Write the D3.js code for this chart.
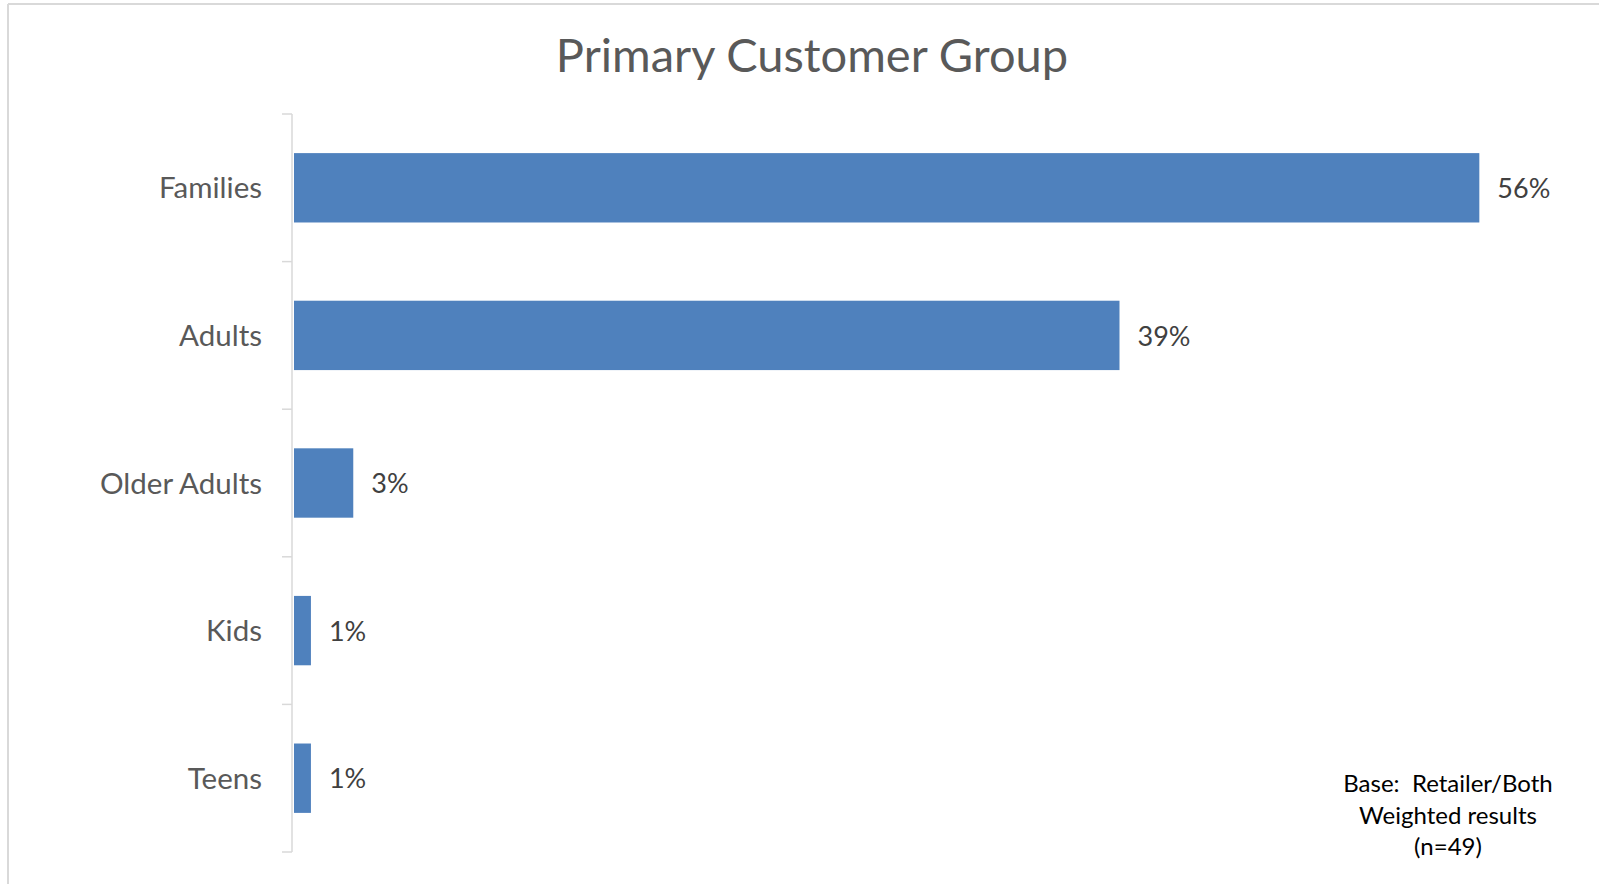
<!DOCTYPE html>
<html>
<head>
<meta charset="utf-8">
<script src="https://cdnjs.cloudflare.com/ajax/libs/d3/7.8.5/d3.min.js"></script>
<style>
  html, body { margin: 0; padding: 0; background: #ffffff; }
  svg { display: block; }
  text { font-family: Lato, "Open Sans", sans-serif; }
</style>
</head>
<body>
<svg id="chart" width="1599" height="884"></svg>
<script>
const title = "Primary Customer Group";
const categories = ["Families", "Adults", "Older Adults", "Kids", "Teens"];
const values = [56, 39, 2.8, 0.8, 0.8];
const noteLines = ["Base:  Retailer/Both", "Weighted results", "(n=49)"];
const xMax = 60;

const svg = d3.select("#chart");
const W = 1599, H = 884;

// chart area frame (top and left edges visible)
svg.append("line").attr("x1", 8).attr("x2", W).attr("y1", 4).attr("y2", 4)
  .attr("stroke", "#d9d9d9").attr("stroke-width", 2);
svg.append("line").attr("x1", 8).attr("x2", 8).attr("y1", 4).attr("y2", H)
  .attr("stroke", "#d9d9d9").attr("stroke-width", 2);

const plot = { left: 294, right: 1564, top: 114, bottom: 852 };

const x = d3.scaleLinear().domain([0, xMax]).range([plot.left, plot.right]);
const y = d3.scaleBand().domain(categories).range([plot.top, plot.bottom])
  .paddingInner(0.53).paddingOuter(0.265);

// title
svg.append("text")
  .attr("x", 812).attr("y", 72)
  .attr("text-anchor", "middle")
  .attr("fill", "#595959")
  .attr("font-size", 47)
  .text(title);

// bars
svg.selectAll("rect.bar").data(categories).enter().append("rect")
  .attr("class", "bar")
  .attr("x", x(0))
  .attr("y", d => y(d))
  .attr("width", (d, i) => x(values[i]) - x(0))
  .attr("height", y.bandwidth())
  .attr("fill", "#4f81bd");

// value labels
const fmt = v => d3.format(".0f")(v) + "%";
svg.selectAll("text.val").data(categories).enter().append("text")
  .attr("class", "val")
  .attr("x", (d, i) => x(values[i]) + 18)
  .attr("y", d => y(d) + y.bandwidth() / 2)
  .attr("dy", "0.38em")
  .attr("fill", "#404040")
  .attr("font-size", 27)
  .text((d, i) => fmt(values[i]));

// category axis
const axisX = plot.left - 2;
const axisG = svg.append("g").attr("transform", `translate(${axisX},0)`);
axisG.call(d3.axisLeft(y).tickSize(0).tickPadding(30));
axisG.select(".domain").remove();
axisG.selectAll(".tick text")
  .attr("fill", "#595959")
  .attr("font-size", 29.5)
  .attr("dy", "0.36em")
  .attr("font-family", "Lato, 'Open Sans', sans-serif");

// axis line and boundary ticks
const step = y.step();
const bounds = categories.map(c => y(c) - step * y.paddingInner() / 2)
  .concat([y(categories[categories.length - 1]) + y.bandwidth() + step * y.paddingInner() / 2]);
svg.append("line")
  .attr("x1", axisX).attr("x2", axisX)
  .attr("y1", bounds[0]).attr("y2", bounds[bounds.length - 1])
  .attr("stroke", "#d9d9d9").attr("stroke-width", 1.5);
svg.selectAll("line.btick").data(bounds).enter().append("line")
  .attr("class", "btick")
  .attr("x1", axisX - 10).attr("x2", axisX)
  .attr("y1", d => d).attr("y2", d => d)
  .attr("stroke", "#d9d9d9").attr("stroke-width", 1.5);

// note
const note = svg.append("text")
  .attr("x", 1448).attr("y", 792)
  .attr("text-anchor", "middle")
  .attr("fill", "#000000")
  .attr("font-size", 24);
note.selectAll("tspan").data(noteLines).enter().append("tspan")
  .attr("x", 1448)
  .attr("dy", (d, i) => i === 0 ? 0 : 31.5)
  .style("white-space", "pre")
  .text(d => d);
</script>
</body>
</html>
